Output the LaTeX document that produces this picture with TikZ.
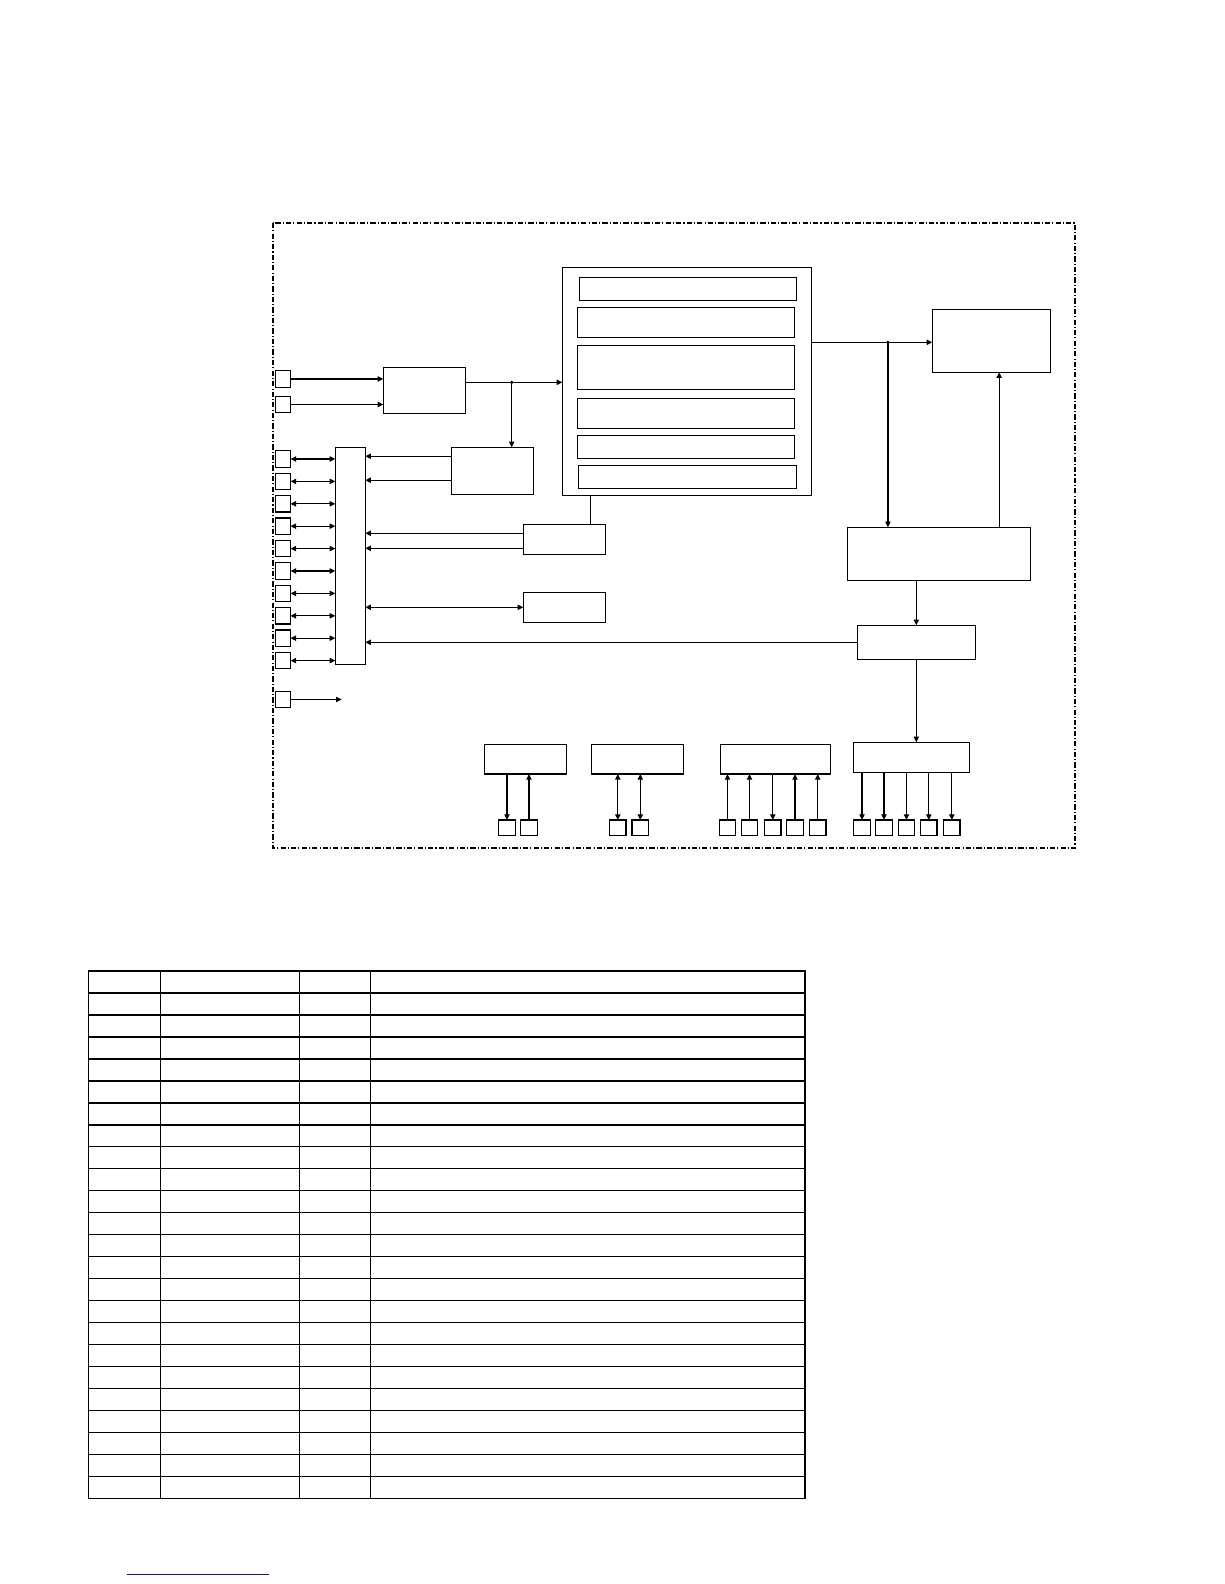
\documentclass[tikz,border=0pt]{standalone}
\usepackage{xcolor}
\usepackage{tikz}
\usetikzlibrary{arrows.meta, calc}
\definecolor{linkblue}{RGB}{20, 20, 140}

\begin{document}
\begin{tikzpicture}[
  x=0.02cm, y=-0.02cm,
  blk/.style={draw, line width=0.7pt, inner sep=0pt, outer sep=0pt},
  port/.style={blk, minimum width=0.3cm, minimum height=0.33cm},
  bport/.style={blk, minimum width=0.33cm, minimum height=0.31cm},
  wire/.style={line width=0.7pt},
  arrow/.style={-{Triangle[length=3.2pt, width=3pt]}, line width=0.7pt},
  rarrow/.style={{Triangle[length=3.2pt, width=3pt]}-, line width=0.7pt},
  dblarrow/.style={{Triangle[length=3.2pt, width=3pt]}-{Triangle[length=3.2pt, width=3pt]}, line width=0.7pt},
  frame/.style={line width=0.6pt, dash pattern=on 3pt off 1.2pt on 0.6pt off 1.2pt},
  grid/.style={line width=0.8pt}
]
  \useasboundingbox (0,0) rectangle (1224,1584);

  % Cornice
  \draw[frame] (273,223) rectangle (1075,848);

  % Ingressi e blocco di ingresso
  \node[blk, minimum width=1.64cm, minimum height=0.92cm] (inbox) at (424.3,390.3) {};
  \node[port] (in1) at (283,379) {};
  \node[port] (in2) at (283,404.5) {};
  \draw[arrow] (in1.east) -- (in1.east -| inbox.west);
  \draw[arrow] (in2.east) -- (in2.east -| inbox.west);

  % Blocco centrale con sezioni
  \node[blk, minimum width=4.984cm, minimum height=4.568cm] (core) at (686.9,381.5) {};
  \node[blk, minimum width=4.342cm, minimum height=0.46cm] (sec1) at (687.75,288.8) {};
  \node[blk, minimum width=4.34cm, minimum height=0.6cm] (sec2) at (685.7,322.3) {};
  \node[blk, minimum width=4.34cm, minimum height=0.88cm] (sec3) at (685.7,367.3) {};
  \node[blk, minimum width=4.34cm, minimum height=0.6cm] (sec4) at (685.7,413.3) {};
  \node[blk, minimum width=4.34cm, minimum height=0.46cm] (sec5) at (685.7,446.8) {};
  \node[blk, minimum width=4.362cm, minimum height=0.46cm] (sec6) at (687.25,476.8) {};

  % Bus e blocchi a sinistra
  \node[blk, minimum width=0.6cm, minimum height=4.34cm] (bus) at (350.3,555.8) {};
  \node[blk, minimum width=1.64cm, minimum height=0.94cm] (ctl) at (492.3,470.8) {};
  \node[blk, minimum width=1.64cm, minimum height=0.6cm] (tmr) at (564.3,539.3) {};
  \node[blk, minimum width=1.64cm, minimum height=0.6cm] (ser) at (564.3,607.3) {};

  \coordinate (j1) at (511.7,382.3);
  \draw[wire] (inbox.east |- j1) -- (j1);
  \draw[arrow] (j1) -- (j1 -| core.west);
  \draw[arrow] (j1) -- (j1 |- ctl.north);
  \fill (j1) circle (1pt);

  \coordinate (k1) at ($(ctl.north west)!0.19!(ctl.south west)$);
  \coordinate (k2) at ($(ctl.north west)!0.70!(ctl.south west)$);
  \draw[arrow] (k1) -- (k1 -| bus.east);
  \draw[arrow] (k2) -- (k2 -| bus.east);

  \coordinate (t0) at (590.5,524.3);
  \draw[wire] (t0 |- core.south) -- (t0 |- tmr.north);
  \coordinate (t1) at ($(tmr.north west)!0.3!(tmr.south west)$);
  \coordinate (t2) at ($(tmr.north west)!0.8!(tmr.south west)$);
  \draw[arrow] (t1) -- (t1 -| bus.east);
  \draw[arrow] (t2) -- (t2 -| bus.east);
  \draw[dblarrow] (ser.west) -- (ser.west -| bus.east);

  \foreach \i in {1,...,10} {
    \node[port] (p\i) at (283,{459+22.4*(\i-1)}) {};
    \draw[dblarrow] (p\i.east) -- (p\i.east -| bus.west);
  }
  \node[port] (p11) at (283,699.5) {};
  \coordinate (pend) at (341.7,699.5);
  \draw[arrow] (p11.east) -- (pend);

  % Lato destro
  \node[blk, minimum width=2.366cm, minimum height=1.26cm] (disp) at (991.35,340.8) {};
  \node[blk, minimum width=3.66cm, minimum height=1.06cm] (drv) at (938.8,553.8) {};
  \node[blk, minimum width=2.36cm, minimum height=0.68cm] (mux) at (916.3,642.3) {};

  \coordinate (j2) at (887.9,342.3);
  \draw[wire] (core.east |- j2) -- (j2);
  \draw[arrow] (j2) -- (j2 -| disp.west);
  \draw[arrow] (j2) -- (j2 |- drv.north);
  \fill (j2) circle (1pt);
  \coordinate (u1) at (999.2,527.3);
  \draw[arrow] (u1 |- drv.north) -- (u1 |- disp.south);
  \draw[arrow] (drv.south -| mux.north) -- (mux.north);
  \draw[arrow] (mux.west) -- (mux.west -| bus.east);

  % Blocchi di uscita in basso
  \node[blk, minimum width=1.64cm, minimum height=0.594cm] (out1) at (525.3,759.2) {};
  \node[blk, minimum width=1.832cm, minimum height=0.594cm] (out2) at (637.5,759.2) {};
  \node[blk, minimum width=2.2cm, minimum height=0.594cm] (out3) at (775.3,759.2) {};
  \node[blk, minimum width=2.32cm, minimum height=0.6cm] (out4) at (911.3,757.3) {};
  \draw[arrow] (mux.south) -- (mux.south |- out4.north);

  \foreach \x/\s [count=\i] in {507/rarrow, 529/arrow} {
    \node[bport] (pa\i) at (\x,827.7) {};
    \draw[\s] (pa\i.north) -- (pa\i.north |- out1.south);
  }
  \foreach \x/\s [count=\i] in {617.8/dblarrow, 640.3/dblarrow} {
    \node[bport] (pb\i) at (\x,827.7) {};
    \draw[\s] (pb\i.north) -- (pb\i.north |- out2.south);
  }
  \foreach \x/\s [count=\i] in {727.5/arrow, 749.5/arrow, 772.8/rarrow, 795/arrow, 817.7/arrow} {
    \node[bport] (pc\i) at (\x,827.7) {};
    \draw[\s] (pc\i.north) -- (pc\i.north |- out3.south);
  }
  \foreach \x/\s [count=\i] in {862/rarrow, 884/rarrow, 906.5/rarrow, 928.8/rarrow, 951.8/rarrow} {
    \node[bport] (pd\i) at (\x,827.7) {};
    \draw[\s] (pd\i.north) -- (pd\i.north |- out4.south);
  }

  % Tabella
  \draw[grid] (88.4,971) rectangle (804.9,1498.3);
  \foreach \c in {160.5, 299.3, 370.5}
    \draw[grid] (\c,971) -- (\c,1498.3);
  \foreach \r in {1,...,23}
    \draw[grid] (88.4,{971+21.97*\r}) -- (804.9,{971+21.97*\r});

  \draw[linkblue, line width=0.7pt] (126.6,1574.7) -- (269,1574.7);

\end{tikzpicture}
\end{document}
